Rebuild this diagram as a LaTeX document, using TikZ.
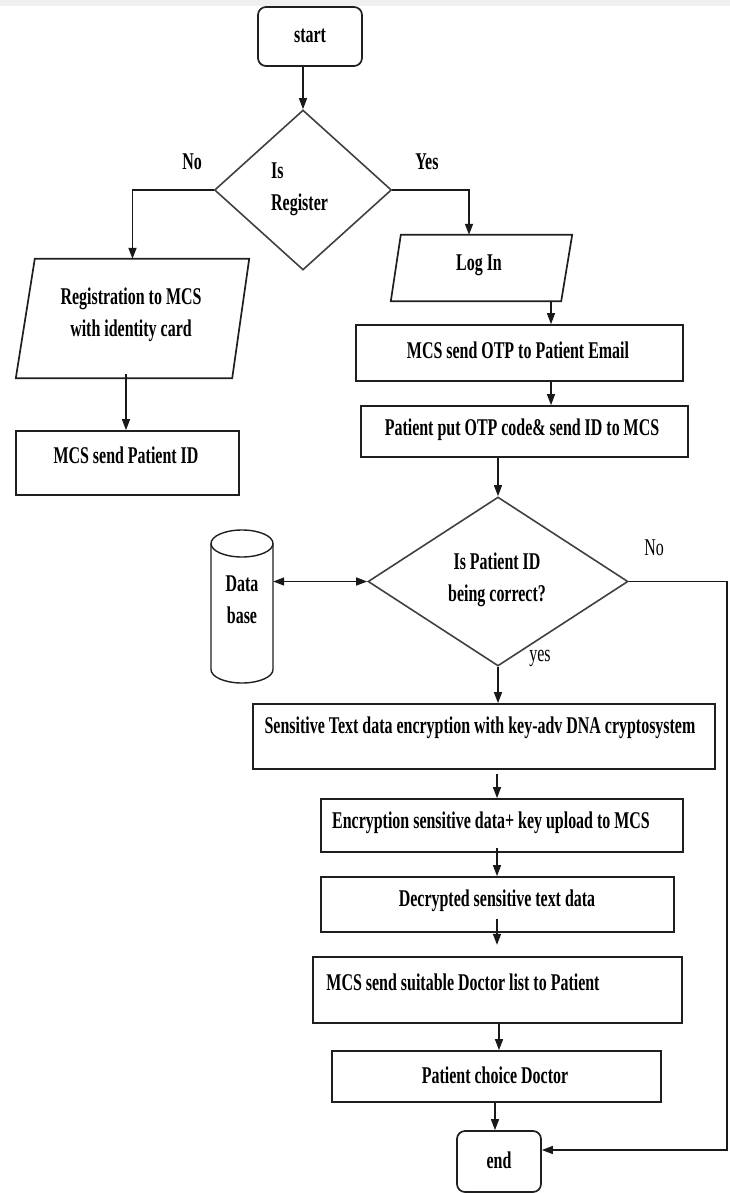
\documentclass[tikz,border=0pt]{standalone}
\usepackage{fontspec}
\newfontfamily\fcfont{Liberation Serif}[FakeStretch=0.665]
\usetikzlibrary{arrows.meta,shapes.geometric,calc}
\begin{document}
\begin{tikzpicture}[x=1pt,y=-1pt,
  box/.style={draw=black!88, line width=1.7pt, rectangle, inner sep=0pt},
  rbox/.style={box, rounded corners=8pt},
  ghost/.style={rectangle, inner sep=0pt},
  dia/.style={draw=black!75, line width=1.6pt, diamond, inner sep=0pt, aspect=1},
  txt/.style={font=\fcfont\bfseries\fontsize{24}{32}\selectfont, align=center, inner sep=0pt, text=black},
  ltxt/.style={font=\fcfont\fontsize{24}{32}\selectfont, inner sep=0pt, text=black},
  arr/.style={-{Triangle[length=11pt,width=8pt]}, line width=1.4pt, draw=black!90},
  darr/.style={{Triangle[length=11pt,width=8pt]}-{Triangle[length=11pt,width=8pt]}, line width=1.4pt, draw=black!90}
]
\useasboundingbox (0,0) rectangle (730,1193);
\fill[black!6] (0,0) rectangle (730,6);

% start
\node[rbox, minimum width=104pt, minimum height=59pt] (start) at (310,36.5) {};
\node[txt] (tstart) at (310,36) {start};

% decision 1
\node[dia, minimum width=177pt, minimum height=160pt] (d1) at (303,190) {};
\node[txt, align=left, anchor=west] (td1) at (271,189) {Is\\Register};
\node[txt] (lno1) at (192,162) {No};
\node[txt] (lyes1) at (427,162) {Yes};

% registration parallelogram
\node[ghost, minimum width=233pt, minimum height=119pt] (reg) at (132.5,318.5) {};
\draw[box] ($(reg.north west)+(19,0)$) -- (reg.north east) -- ($(reg.south east)+(-17,0)$) -- (reg.south west) -- cycle;
\node[txt] (treg) at (131,315) {Registration to MCS\\with identity card};

% MCS send patient ID
\node[box, minimum width=223pt, minimum height=64pt] (pid) at (127.5,463) {};
\node[txt] (tpid) at (126,455) {MCS send Patient ID};

% login parallelogram
\node[ghost, minimum width=181pt, minimum height=66pt] (login) at (481.5,268) {};
\draw[box] ($(login.north west)+(10,0)$) -- (login.north east) -- ($(login.south east)+(-11,0)$) -- (login.south west) -- cycle;
\node[txt] (tlogin) at (479,265) {Log In};

% OTP boxes
\node[box, minimum width=327pt, minimum height=56pt] (otp) at (519.5,353) {};
\node[txt] (totp) at (518,350) {MCS send OTP to Patient Email};
\node[box, minimum width=327pt, minimum height=51pt] (pot) at (524.5,431.5) {};
\node[txt] (tpot) at (522,430) {Patient put OTP code\& send ID to MCS};

% decision 2
\node[dia, minimum width=260pt, minimum height=169pt] (d2) at (498,581.5) {};
\node[txt] (td2) at (497,580) {Is Patient ID\\being correct?};
\node[ltxt] (lno2) at (654,548) {No};
\node[ltxt] (lyes2) at (540,658) {yes};

% database cylinder
\node[ghost, minimum width=62pt, minimum height=153pt] (db) at (242,606.5) {};
\draw[box, line width=1.4pt] (211,543.5) -- (211,669.5) arc[start angle=180, end angle=0, x radius=31, y radius=13.5] -- (273,543.5);
\draw[box, line width=1.4pt] (242,543.5) ellipse[x radius=31, y radius=13.5];
\node[txt] (tdb) at (242,600) {Data\\base};

% process chain
\node[box, minimum width=462pt, minimum height=65pt] (sens) at (484,736.5) {};
\node[txt] (tsens) at (480,728) {Sensitive Text data encryption with key-adv DNA cryptosystem};
\node[box, minimum width=362pt, minimum height=53pt] (enc) at (502,825.5) {};
\node[txt] (tenc) at (491,823) {Encryption sensitive data+ key upload to MCS};
\node[box, minimum width=353pt, minimum height=55pt] (dec) at (497.5,904.5) {};
\node[txt] (tdec) at (497,901) {Decrypted sensitive text data};
\node[box, minimum width=369pt, minimum height=66pt] (suit) at (497.5,990) {};
\node[txt] (tsuit) at (463,982) {MCS send suitable Doctor list to Patient};
\node[box, minimum width=329pt, minimum height=51pt] (choice) at (496.5,1076.5) {};
\node[txt] (tchoice) at (495,1075) {Patient choice Doctor};
\node[rbox, minimum width=84pt, minimum height=61pt] (end) at (499,1161.5) {};
\node[txt] (tend) at (499,1160) {end};

% helper coordinates
\coordinate (ax) at (551,0);
\coordinate (rx) at (727,0);
\coordinate (cx) at (497,0);

% connectors
\draw[arr] (start.south -| d1.north) -- (d1.north);
\draw[arr, line width=1.7pt] (d1.west) -| (reg.north);
\draw[arr, line width=1.7pt] (d1.east) -| ($(login.north)+(-12.5,0)$);
\draw[arr] ($(reg.south -| pid.north)+(-1.5,-4)$) -- ($(pid.north)+(-1.5,0)$);
\draw[arr] (login.south -| ax) -- (otp.north -| ax);
\draw[arr] (otp.south -| ax) -- (pot.north -| ax);
\draw[arr] (pot.south -| d2.north) -- (d2.north);
\draw[darr] (d2.west) -- (d2.west -| db.east);
\draw[arr] (d2.south) -- (d2.south |- sens.north);
\draw[arr] ($(sens.south -| cx)+(0,4)$) -- (enc.north -| cx);
\draw[arr] ($(enc.south -| cx)+(0,-5)$) -- (dec.north -| cx);
\draw[arr] ($(dec.south -| cx)+(0,-14)$) -- ($(dec.south -| cx)+(0,12)$);
\draw[arr] ($(suit.south)+(1.5,0)$) -- ($(choice.north)+(2.5,0)$);
\draw[arr] ($(choice.south)+(-1.5,0)$) -- ($(end.north)+(-4,0)$);
\draw[arr] (d2.east) -- (d2.east -| rx) |- ($(end.east)+(0,-11.5)$);
\end{tikzpicture}
\end{document}
